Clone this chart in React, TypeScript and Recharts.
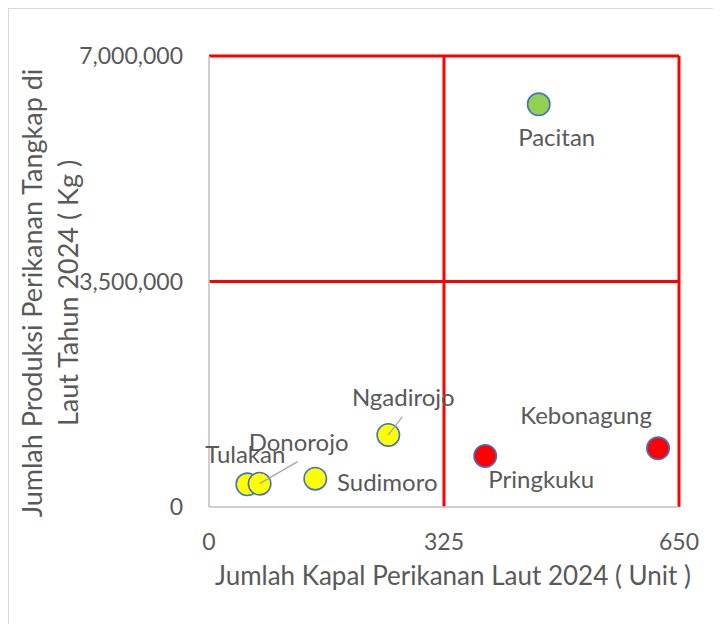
import { ScatterChart, Scatter, XAxis, YAxis, ReferenceLine } from 'recharts';

const districts = ['Pacitan', 'Ngadirojo', 'Tulakan', 'Donorojo', 'Sudimoro', 'Pringkuku', 'Kebonagung'];
const vessels = [456, 248, 53, 70, 147, 382, 621];
const production = [6250000, 1118000, 352000, 362000, 439000, 792000, 911000];
const xTicks = [0, 325, 650];
const yTicks = [0, 3500000, 7000000];

// quadrant colours per district
const pointColors = ['#92D050', '#FFFF00', '#FFFF00', '#FFFF00', '#FFFF00', '#FF0000', '#FF0000'];
// label placement relative to the marker: [dx, dy baseline, leader dx, leader dy]
const labelOffsets: number[][] = [
  [18, 42, 0, 0],
  [15, -29, 14, -18],
  [-2, -21, 0, 0],
  [39, -33, 38, -22],
  [72, 12, 0, 0],
  [56, 32, 0, 0],
  [-72, -24, 0, 0],
];

const chartData = districts.map((name, i) => ({ name, x: vessels[i], y: production[i] }));

const FONT = 'Lato, "Open Sans", sans-serif';
const TEXT = '#595959';

const fmt = (v: number) => v.toLocaleString('en-US');

function Marker(props: any) {
  const { cx, cy, payload } = props;
  const i = districts.indexOf(payload.name);
  const [dx, dy, lx, ly] = labelOffsets[i];
  return (
    <g>
      <circle cx={cx} cy={cy} r={11.2} fill={pointColors[i]} stroke="#4472C4" strokeWidth={1.6} />
      {lx !== 0 && <line x1={cx} y1={cy} x2={cx + lx} y2={cy + ly} stroke="#A6A6A6" strokeWidth={1.3} />}
      <text x={cx + dx} y={cy + dy} textAnchor="middle" fill={TEXT} fontSize={24} fontFamily={FONT}>
        {payload.name}
      </text>
    </g>
  );
}

function YTitle() {
  return (
    <g fill={TEXT} fontSize={27} fontFamily={FONT}>
      <text transform="translate(33,284) rotate(-90)" textAnchor="middle">
        Jumlah Produksi Perikanan Tangkap di
      </text>
      <text transform="translate(69,284) rotate(-90)" textAnchor="middle">
        Laut Tahun 2024 ( Kg )
      </text>
    </g>
  );
}

export default function App() {
  return (
    <div
      style={{
        width: 713,
        height: 616,
        borderTop: '1px solid #D9D9D9',
        borderLeft: '1px solid #D9D9D9',
        boxSizing: 'border-box',
        background: '#fff',
      }}
    >
      <ScatterChart width={712} height={615} margin={{ top: 47, right: 42, bottom: 37, left: 0 }}>
        <XAxis
          type="number"
          dataKey="x"
          domain={[0, 650]}
          ticks={xTicks}
          height={80}
          tickLine={false}
          tickSize={0}
          tickMargin={27}
          axisLine={{ stroke: '#BFBFBF', strokeWidth: 1.5 }}
          tick={{ fill: TEXT, fontSize: 23, fontFamily: FONT }}
          label={{
            value: 'Jumlah Kapal Perikanan Laut 2024 ( Unit )',
            position: 'insideBottom',
            offset: 0,
            dy: -2,
            dx: 9,
            fill: TEXT,
            fontSize: 26,
            fontFamily: FONT,
          }}
        />
        <YAxis
          type="number"
          dataKey="y"
          domain={[0, 7000000]}
          ticks={yTicks}
          width={200}
          tickLine={false}
          tickSize={0}
          tickMargin={26}
          tickFormatter={fmt}
          axisLine={{ stroke: '#BFBFBF', strokeWidth: 1.5 }}
          tick={{ fill: TEXT, fontSize: 23, fontFamily: FONT }}
          label={{ content: () => <YTitle /> }}
        />
        <ReferenceLine x={325} stroke="#FF0000" strokeWidth={3} />
        <ReferenceLine x={650} stroke="#FF0000" strokeWidth={3} />
        <ReferenceLine y={3500000} stroke="#FF0000" strokeWidth={3} />
        <ReferenceLine y={7000000} stroke="#FF0000" strokeWidth={3} />
        <Scatter data={chartData} shape={Marker} isAnimationActive={false} />
      </ScatterChart>
    </div>
  );
}
